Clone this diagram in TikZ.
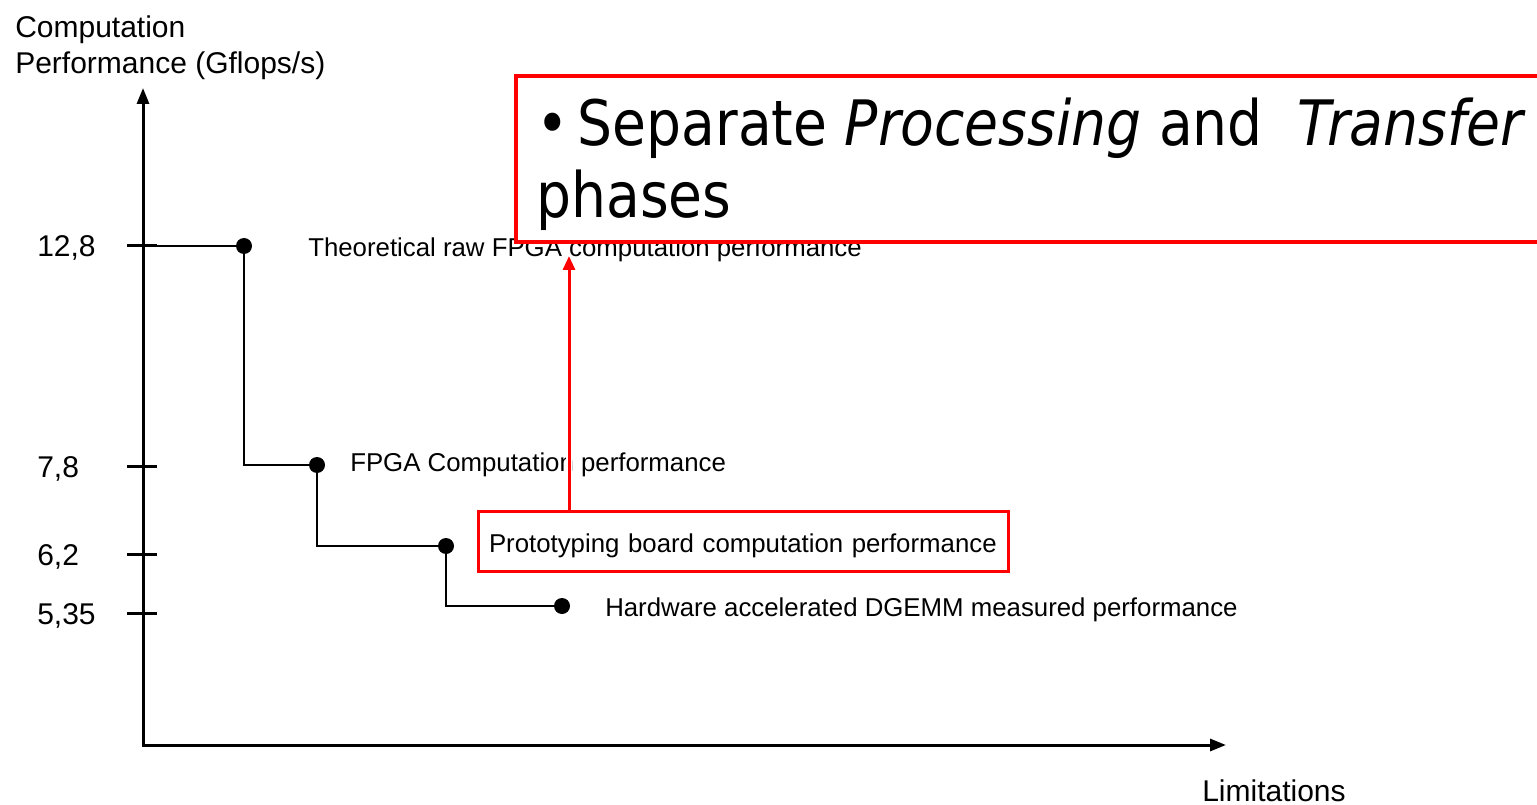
\documentclass[tikz,border=0pt]{standalone}
\usepackage{fontspec}
\setmainfont{Liberation Sans}
\newfontfamily\slidefont[FakeStretch=0.88]{DejaVu Sans}
\usetikzlibrary{arrows.meta}
\begin{document}
\begin{tikzpicture}[x=0.75pt,y=-0.75pt,
  axis/.style={line width=2.25pt, {Triangle[length=12pt,width=9pt]}-{Triangle[length=12pt,width=9pt]}},
  tick/.style={line width=2.25pt},
  stepline/.style={line width=1.2pt},
  dot/.style={circle, fill=black, inner sep=0pt, minimum size=12pt},
  lbl/.style={anchor=base west, inner sep=0pt, font=\fontsize{19.35}{23}\selectfont},
  axlbl/.style={anchor=base west, inner sep=0pt, font=\fontsize{22.5}{27}\selectfont},
  pointer/.style={draw=red, line width=2.25pt, -{Triangle[length=10.5pt,width=9pt]},
    preaction={draw=white, line width=5pt, -}},
  protobox/.style={draw=red, line width=2.25pt, fill=white, minimum width=397.5pt,
    minimum height=45pt, inner xsep=8.25pt, text width=381pt, align=left,
    text height=16.5pt, text depth=0pt, font=\fontsize{19.35}{23}\selectfont},
  notebox/.style={draw=red, line width=3pt, fill=white, anchor=north west,
    minimum width=773pt, minimum height=124.5pt, inner xsep=12.75pt, inner ysep=0pt,
    align=left, font=\slidefont\fontsize{47}{54}\selectfont}]

\useasboundingbox (0,0) rectangle (1537,805);

% axes
\coordinate (O) at (143,745);
\coordinate (ytip) at (143,88);
\coordinate (xtip) at (1226,745);
\draw[axis] (ytip) -- (O) -- (xtip);

\node[axlbl, align=left] (ylabel) at (15,74) {Computation\\Performance (Gflops/s)};
\node[axlbl] (xlabel) at (1202,801) {Limitations};

% ticks on the vertical axis
\coordinate (t1) at (143,246);
\coordinate (t2) at (143,466);
\coordinate (t3) at (143,554);
\coordinate (t4) at (143,613);
\foreach \t in {t1,t2,t3,t4}
  \draw[tick] ([xshift=-12pt]\t) -- ([xshift=10.5pt]\t);

\node[axlbl] (v1) at (37,257) {12,8};
\node[axlbl] (v2) at (37,477) {7,8};
\node[axlbl] (v3) at (37,565) {6,2};
\node[axlbl] (v4) at (37,624) {5,35};

% performance steps
\node[dot] (d1) at (244,246) {};
\node[dot] (d2) at (317,465) {};
\node[dot] (d3) at (446,546) {};
\node[dot] (d4) at (562,606) {};
\draw[stepline] (t1) -- (d1.center) |- (d2.center) |- (d3.center) |- (d4.center);

\node[lbl] (l1) at (308,257) {Theoretical raw FPGA computation performance};
\node[lbl] (l2) at (350,471) {FPGA Computation performance};
\node[lbl] (l4) at (605,616) {Hardware accelerated DGEMM measured performance};
\node[protobox] (proto) at (743,541) {Prototyping board computation performance};

% note box
\node[notebox] (note) at (514,74)
  {\rule{0pt}{44pt}\textbullet\hspace{6.5pt}Separate \textit{Processing} and\ \ \textit{Transfer}\\phases};

% pointer from the prototyping box
\coordinate (tip) at (569,256);
\draw[pointer] (tip |- proto.north) -- (tip);
\end{tikzpicture}
\end{document}
